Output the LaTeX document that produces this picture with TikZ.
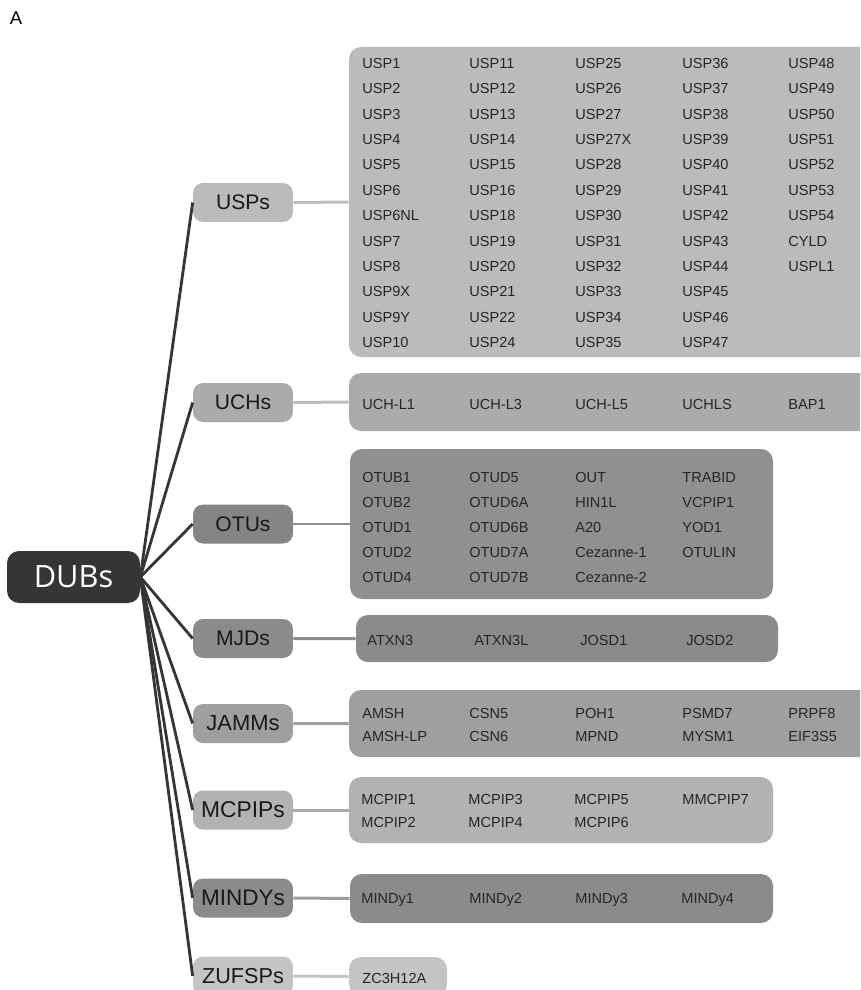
\documentclass[tikz,border=0pt]{standalone}
\usepackage{fontspec}
\setmainfont{Liberation Sans}
\newfontfamily\rootfont{Open Sans}
\usetikzlibrary{positioning, fit}

\definecolor{rootgray}{HTML}{353535}
\definecolor{uspgray}{HTML}{BBBBBB}
\definecolor{uchgray}{HTML}{ABABAB}
\definecolor{otugray}{HTML}{909090}
\definecolor{mjdgray}{HTML}{8B8B8B}
\definecolor{jammgray}{HTML}{9F9F9F}
\definecolor{mcpipgray}{HTML}{B2B2B2}
\definecolor{mindygray}{HTML}{8B8B8B}
\definecolor{zufspgray}{HTML}{C4C4C4}

\begin{document}
\begin{tikzpicture}[
  x=0.02cm, y=-0.02cm,
  root/.style={rectangle, rounded corners=0.24cm, fill=rootgray, text=white, minimum width=2.66cm, minimum height=1.04cm, font=\rootfont\fontsize{17.5}{20}\selectfont},
  family/.style={rectangle, rounded corners=0.2cm, minimum width=2cm, minimum height=0.78cm, inner sep=1pt, text=black!90, font=\fontsize{12}{14}\selectfont},
  group/.style={rectangle, rounded corners=0.24cm, inner sep=0pt},
  item/.style={anchor=base west, inner sep=0pt, text=black!85, font=\fontsize{8.3}{10}\selectfont},
  branch/.style={line width=1.6pt, draw=rootgray},
  twig/.style={line width=1.7pt}
]
\useasboundingbox (0,0) rectangle (860,990);
\clip (0,0) rectangle (860,990);

\node[font=\fontsize{10.5}{12}\selectfont] (panel) at (16,18) {A};

% root and families
\node[root] (dubs) at (73.5,577) {DUBs};
\node[family, fill=uspgray] (usps) at (243,202.5) {USPs};
\node[family, fill=uchgray] (uchs) at (243,402.5) {UCHs};
\node[family, fill=otugray!110] (otus) at (243,524) {OTUs};
\node[family, fill=mjdgray] (mjds) at (243,638.5) {MJDs};
\node[family, fill=jammgray, font=\fontsize{12.5}{14}\selectfont] (jamms) at (243,723.5) {JAMMs};
\node[family, fill=mcpipgray, font=\fontsize{13}{15}\selectfont] (mcpips) at (243,810) {MCPIPs};
\node[family, fill=mindygray, font=\fontsize{12.8}{15}\selectfont] (mindys) at (243,898) {MINDYs};
\node[family, fill=zufspgray, font=\fontsize{12.3}{14}\selectfont] (zufsps) at (243,976) {ZUFSPs};

\foreach \fam in {usps, uchs, otus, mjds, jamms, mcpips, mindys, zufsps}
  \draw[branch] (dubs.east) -- (\fam.west);

% member boxes
\node[group, fill=uspgray, fit={(349,47) (875,357)}] (uspbox) {};
\node[group, fill=uchgray, fit={(349,373) (875,431)}] (uchbox) {};
\node[group, fill=otugray, fit={(350,449) (773,599)}] (otubox) {};
\node[group, fill=mjdgray, fit={(356,615) (778,662)}] (mjdbox) {};
\node[group, fill=jammgray, fit={(349,690) (875,757)}] (jammbox) {};
\node[group, fill=mcpipgray, fit={(349,777) (773,843)}] (mcpipbox) {};
\node[group, fill=mindygray, fit={(350,874) (773,923)}] (mindybox) {};
\node[group, fill=zufspgray, fit={(349,957) (447,996)}] (zufspbox) {};

\draw[twig, draw=uspgray!95!white] (usps.east) -- (uspbox.west);
\draw[twig, draw=uchgray!80!white] (uchs.east) -- (uchbox.west);
\draw[twig, draw=otugray] (otus.east) -- (otubox.west);
\draw[twig, draw=mjdgray] (mjds.east) -- (mjdbox.west);
\draw[twig, draw=jammgray] (jamms.east) -- (jammbox.west);
\draw[twig, draw=mcpipgray!95!black] (mcpips.east) -- (mcpipbox.west);
\draw[twig, draw=mindygray!85!white] (mindys.east) -- (mindybox.west);
\draw[twig, draw=zufspgray] (zufsps.east) -- (zufspbox.west);

% members
\foreach \x/\lst [count=\c] in {
  362/{USP1,USP2,USP3,USP4,USP5,USP6,USP6NL,USP7,USP8,USP9X,USP9Y,USP10},
  469/{USP11,USP12,USP13,USP14,USP15,USP16,USP18,USP19,USP20,USP21,USP22,USP24},
  575/{USP25,USP26,USP27,USP27X,USP28,USP29,USP30,USP31,USP32,USP33,USP34,USP35},
  682/{USP36,USP37,USP38,USP39,USP40,USP41,USP42,USP43,USP44,USP45,USP46,USP47},
  788/{USP48,USP49,USP50,USP51,USP52,USP53,USP54,CYLD,USPL1}}
  \foreach \lbl [count=\r] in \lst
    \node[item] (usp\c-\r) at (\x, 42.8+25.4*\r) {\lbl};

\foreach \x/\lbl [count=\c] in {362/UCH-L1, 469/UCH-L3, 575/UCH-L5, 682/UCHLS, 788/BAP1}
  \node[item] (uch\c) at (\x, 409.2) {\lbl};

\foreach \x/\lst [count=\c] in {
  362/{OTUB1,OTUB2,OTUD1,OTUD2,OTUD4},
  469/{OTUD5,OTUD6A,OTUD6B,OTUD7A,OTUD7B},
  575/{OUT,HIN1L,A20,Cezanne-1,Cezanne-2},
  682/{TRABID,VCPIP1,YOD1,OTULIN}}
  \foreach \lbl [count=\r] in \lst
    \node[item] (otu\c-\r) at (\x, 457.2+25*\r) {\lbl};

\foreach \x/\lbl [count=\c] in {367/ATXN3, 474/ATXN3L, 580/JOSD1, 686/JOSD2}
  \node[item] (mjd\c) at (\x, 645.2) {\lbl};

\foreach \x/\lst [count=\c] in {
  362/{AMSH,AMSH-LP}, 469/{CSN5,CSN6}, 575/{POH1,MPND},
  682/{PSMD7,MYSM1}, 788/{PRPF8,EIF3S5}}
  \foreach \lbl [count=\r] in \lst
    \node[item] (jamm\c-\r) at (\x, 695.2+23*\r) {\lbl};

\foreach \x/\lst [count=\c] in {
  361/{MCPIP1,MCPIP2}, 468/{MCPIP3,MCPIP4}, 574/{MCPIP5,MCPIP6}, 682/{MMCPIP7}}
  \foreach \lbl [count=\r] in \lst
    \node[item] (mcpip\c-\r) at (\x, 781.2+23*\r) {\lbl};

\foreach \x/\lbl [count=\c] in {361/MINDy1, 469/MINDy2, 575/MINDy3, 681/MINDy4}
  \node[item] (mindy\c) at (\x, 903.2) {\lbl};

\node[item] (zc3h12a) at (362,983) {ZC3H12A};
\end{tikzpicture}
\end{document}
